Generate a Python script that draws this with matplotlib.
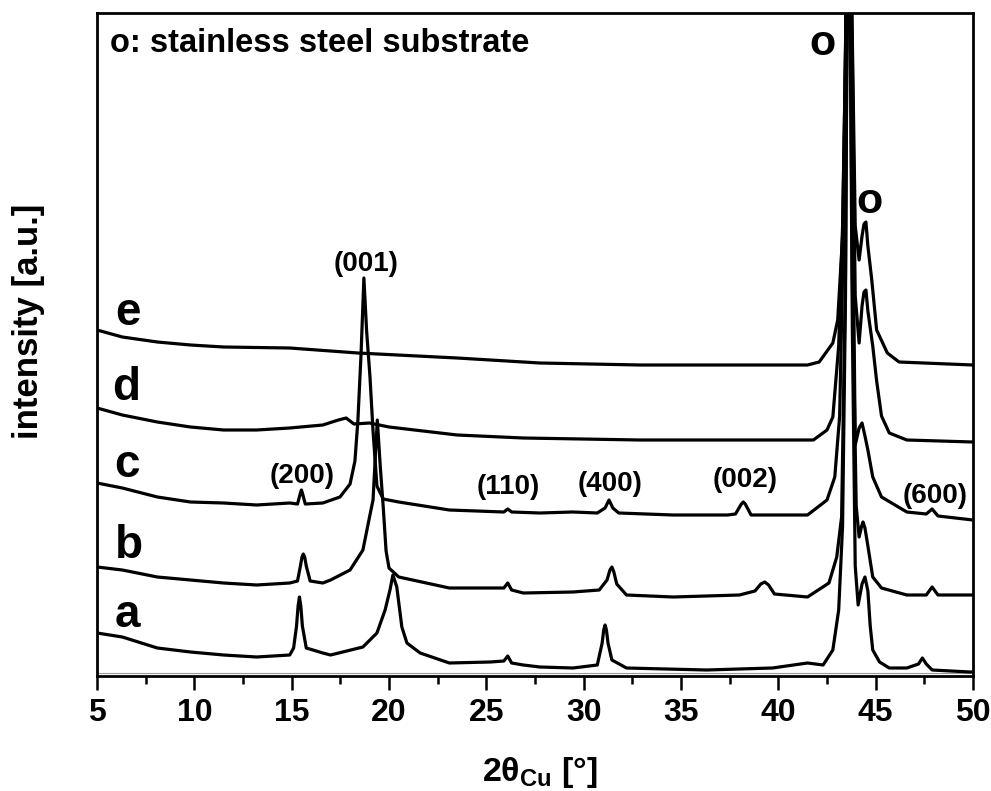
import matplotlib
matplotlib.use("Agg")
import matplotlib.pyplot as plt

plt.rcParams['font.family'] = ['Liberation Sans', 'DejaVu Sans']
plt.rcParams['font.weight'] = 'bold'
plt.rcParams['mathtext.fontset'] = 'custom'
plt.rcParams['mathtext.bf'] = 'Liberation Sans:bold'
plt.rcParams['mathtext.rm'] = 'Liberation Sans:bold'

# XRD traces: 2theta [deg] and intensity [a.u., stacked]
a_tt = [5.0, 6.3, 8.1, 9.8, 11.5, 13.2, 14.9, 15.1, 15.25, 15.33, 15.4, 15.47, 15.55, 15.75, 16.6, 17.0,
        18.66, 19.38, 19.8, 20.05, 20.2, 20.4, 20.66, 20.92, 21.6, 23.1, 25.2, 25.9, 26.1, 26.3, 26.9,
        27.75, 29.45, 30.7, 30.95, 31.03, 31.1, 31.17, 31.25, 31.45, 32.2, 36.3, 39.7, 41.5, 42.3,
        42.8, 43.1, 43.3, 43.45, 43.6, 43.8, 43.95, 44.1, 44.3, 44.45, 44.6, 44.72, 44.85, 45.2, 45.7,
        46.6, 47.2, 47.4, 47.6, 47.9, 49.85, 50.0]
a_int = [43, 39, 28, 24, 21, 19, 21, 28, 50, 70, 79, 70, 50, 28, 23, 21,
         29, 43, 66, 86, 101, 89, 49, 33, 23, 13, 14, 15, 20, 13, 11,
         9, 8, 11, 33, 46, 51, 46, 33, 16, 8, 6, 8, 13, 11,
         26, 66, 150, 380, 900, 350, 110, 71, 92, 99, 85, 50, 26, 14, 8,
         8, 12, 18, 12, 6, 4, 4]

b_tt = [5.0, 6.3, 8.1, 9.8, 11.5, 13.2, 14.9, 15.3, 15.45, 15.53, 15.6, 15.67, 15.75, 15.95, 16.6, 17.0,
        18.0, 18.66, 19.0, 19.18, 19.3, 19.4, 19.55, 19.7, 19.85, 20.0, 20.5, 23.1, 25.2, 25.9, 26.1,
        26.3, 26.9, 29.45, 30.8, 31.2, 31.35, 31.45, 31.55, 31.7, 32.2, 34.6, 38.0, 38.8, 39.1, 39.3,
        39.5, 39.8, 41.5, 42.6, 43.0, 43.25, 43.45, 43.6, 43.8, 44.0, 44.15, 44.28, 44.35, 44.45, 44.6,
        44.85, 45.3, 46.6, 47.6, 47.9, 48.2, 50.0]
b_int = [109, 106, 99, 96, 93, 91, 93, 95, 110, 119, 122, 119, 110, 95, 93, 96,
         106, 126, 159, 176, 220, 256, 210, 170, 125, 108, 99, 88, 88, 88, 93,
         86, 83, 84, 86, 96, 106, 109, 104, 92, 81, 79, 81, 85, 92, 94,
         91, 82, 79, 93, 119, 159, 400, 900, 400, 170, 139, 150, 154, 148, 130,
         99, 88, 81, 81, 89, 81, 81]

c_tt = [5.0, 6.3, 8.1, 9.8, 11.5, 13.2, 14.9, 15.3, 15.45, 15.5, 15.55, 15.7, 16.6, 17.48, 18.0, 18.25,
        18.4, 18.56, 18.71, 18.85, 19.02, 19.18, 19.38, 19.7, 20.5, 23.1, 25.9, 26.1, 26.3, 27.75, 29.45,
        30.7, 31.1, 31.3, 31.5, 31.8, 34.6, 37.4, 37.8, 38.1, 38.2, 38.3, 38.6, 41.5, 42.5, 42.9,
        43.15, 43.35, 43.6, 43.8, 43.95, 44.15, 44.3, 44.45, 44.6, 44.85, 45.3, 46.6, 47.6, 47.9, 48.2,
        50.0]
c_int = [193, 188, 179, 174, 173, 171, 173, 172, 183, 186, 183, 172, 173, 179, 192, 215,
         255, 320, 398, 345, 300, 245, 190, 177, 174, 166, 164, 167, 164, 163, 164,
         163, 168, 176, 168, 163, 161, 161, 162, 172, 174, 172, 161, 161, 176, 199,
         260, 450, 900, 520, 231, 248, 253, 240, 226, 199, 179, 164, 162, 167, 160,
         156]

d_tt = [5.0, 6.3, 8.1, 9.8, 11.5, 13.2, 14.9, 16.6, 17.4, 17.8, 18.2, 19.0, 20.0, 23.5, 26.9, 32.9,
        41.8, 42.5, 42.8, 43.1, 43.3, 43.45, 43.6, 43.8, 43.95, 44.15, 44.3, 44.4, 44.5, 44.6, 44.85,
        45.05, 45.3, 45.7, 46.6, 50.0]
d_int = [268, 261, 254, 249, 246, 246, 248, 251, 256, 258, 252, 253, 249, 241, 238, 236,
         236, 246, 259, 330, 450, 620, 900, 620, 380, 333, 370, 384, 386, 365, 330,
         295, 260, 243, 236, 234]

e_tt = [5.0, 6.3, 8.1, 9.8, 11.5, 14.9, 18.4, 23.5, 27.75, 32.9, 38.0, 41.5, 42.1, 42.8, 43.05, 43.3,
        43.45, 43.6, 43.8, 43.95, 44.15, 44.3, 44.4, 44.5, 44.6, 44.8, 45.05, 45.6, 46.2, 50.0]
e_int = [346, 339, 334, 331, 329, 328, 323, 318, 313, 311, 311, 311, 314, 333, 356, 440,
         620, 900, 640, 450, 416, 440, 452, 454, 430, 396, 346, 323, 314, 311]

traces = [(a_tt, a_int), (b_tt, b_int), (c_tt, c_int), (d_tt, d_int), (e_tt, e_int)]
trace_names = ['a', 'b', 'c', 'd', 'e']
name_pos = [(5.9, 49), (5.9, 118), (5.9, 199), (5.77, 276), (5.92, 351)]

hkl_labels = ['(001)', '(200)', '(110)', '(400)', '(002)', '(600)']
hkl_pos = [(18.82, 412), (15.53, 200), (26.11, 189), (31.35, 192), (38.28, 196), (48.04, 180)]

fig = plt.figure(figsize=(9.91, 7.91), dpi=100)
ax = fig.add_axes([97 / 991, 1 - 676 / 791, 876 / 991, 663 / 791])

ax.axhline(3, color='0.6', lw=0.8)
for tt, inten in traces:
    ax.plot(tt, inten, color='black', lw=2.3, solid_joinstyle='round')

ax.set_xlim(5, 50)
ax.set_ylim(0, 663)
ax.set_xticks(range(5, 51, 5))
ax.set_xticks([x + 2.5 for x in range(5, 50, 5)], minor=True)
ax.set_yticks([])
ax.tick_params(axis='x', which='major', direction='out', length=10, width=1.8,
               labelsize=23, pad=6)
ax.tick_params(axis='x', which='minor', direction='out', length=6, width=1.8)
for lab in ax.get_xticklabels():
    lab.set_fontweight('bold')
for sp in ax.spines.values():
    sp.set_linewidth(2)

ax.set_xlabel(r'$\mathbf{2θ_{Cu}}$ [°]', fontsize=24.5, fontweight='bold')
ax.xaxis.set_label_coords(0.506, -0.119)
ax.set_ylabel('intensity [a.u.]', fontsize=25, fontweight='bold')
ax.yaxis.set_label_coords(-0.059, 0.535)

ax.text(5.67, 624, 'o: stainless steel substrate', fontsize=23.5, fontweight='bold', va='baseline')
ax.text(42.29, 621, 'o', fontsize=31, fontweight='bold', ha='center', va='baseline')
ax.text(44.70, 463, 'o', fontsize=31, fontweight='bold', ha='center', va='baseline')

for name, (x, y) in zip(trace_names, name_pos):
    ax.text(x, y, name, fontsize=33, fontweight='bold', va='baseline')
for lab, (x, y) in zip(hkl_labels, hkl_pos):
    ax.text(x, y, lab, fontsize=20, fontweight='bold', ha='center', va='center')

fig.savefig('out.png', dpi=100)
